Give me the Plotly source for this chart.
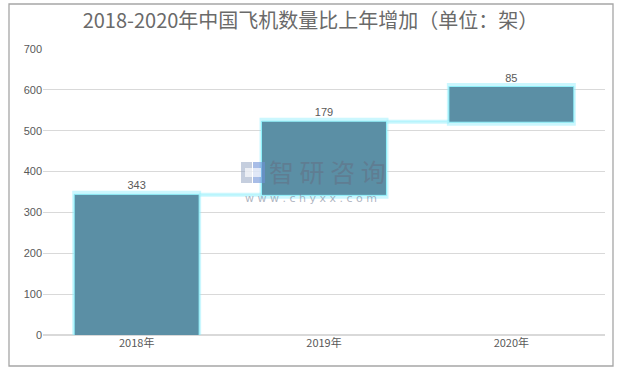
import plotly.graph_objects as go

categories = ["2018年", "2019年", "2020年"]
increments = [343, 179, 85]
y_ticks = [0, 100, 200, 300, 400, 500, 600, 700]
title_text = "2018-2020年中国飞机数量比上年增加（单位：架）"

W, H = 621, 370
L, R, T, B = 43, 16, 49, 35
pw, ph = W - L - R, H - T - B

def px(x):
    return (x - L) / pw

def py(y):
    return (H - B - y) / ph

fig = go.Figure()

common = dict(
    x=categories, y=increments, measure=["relative"] * len(increments),
)

# glow layer
fig.add_trace(go.Waterfall(
    **common,
    increasing=dict(marker=dict(color="rgba(0,0,0,0)", line=dict(color="rgba(140,238,252,0.45)", width=4))),
    connector=dict(line=dict(color="rgba(140,238,252,0.45)", width=4)),
    hoverinfo="skip", showlegend=False,
))
# main layer
fig.add_trace(go.Waterfall(
    **common,
    increasing=dict(marker=dict(color="#5B8FA5", line=dict(color="#8FF0FA", width=1))),
    connector=dict(line=dict(color="#B0F4FB", width=1)),
    text=[str(v) for v in increments], textposition="outside",
    textfont=dict(family="Liberation Sans, Arial", size=11, color="#595959"),
    cliponaxis=False, showlegend=False,
))

fig.update_layout(
    width=W, height=H,
    margin=dict(l=L, r=R, t=T, b=B),
    paper_bgcolor="white", plot_bgcolor="white",
    waterfallmode="overlay", waterfallgap=0.333,
    title=dict(text=title_text, x=0.5, xanchor="center", y=1 - 21 / H, yanchor="middle",
               font=dict(family="Noto Sans CJK SC", size=20, color="#6A6A6A")),
    xaxis=dict(showgrid=False, showline=False, ticks="",
               tickfont=dict(family="Noto Sans CJK SC, Liberation Sans", size=11, color="#595959")),
    yaxis=dict(range=[0, 700], tickvals=y_ticks, showgrid=True, gridcolor="#D9D9D9", gridwidth=1,
               zeroline=True, zerolinecolor="#D9D9D9", showline=False, ticks="",
               tickfont=dict(family="Liberation Sans, Arial", size=11, color="#595959")),
    font=dict(family="Noto Sans CJK SC"),
)

# outer border
fig.add_shape(type="rect", xref="paper", yref="paper",
              x0=px(9), x1=px(613), y0=py(366), y1=py(4),
              line=dict(color="#A6A6A6", width=1.3), fillcolor="rgba(0,0,0,0)", layer="below")

# watermark logo
fig.add_shape(type="rect", xref="paper", yref="paper",
              x0=px(241), x1=px(252), y0=py(183), y1=py(162),
              line=dict(width=0), fillcolor="rgba(150,165,195,0.55)")
fig.add_shape(type="rect", xref="paper", yref="paper",
              x0=px(253), x1=px(265), y0=py(183), y1=py(162),
              line=dict(width=0), fillcolor="rgba(110,145,215,0.6)")
fig.add_shape(type="rect", xref="paper", yref="paper",
              x0=px(245), x1=px(261), y0=py(177), y1=py(168),
              line=dict(width=0), fillcolor="rgba(255,255,255,0.65)")
fig.add_annotation(text="智 研 咨 询", xref="paper", yref="paper",
                   x=px(327), y=py(171), xanchor="center", yanchor="middle", showarrow=False,
                   font=dict(family="Noto Sans CJK SC", size=25, color="rgba(100,110,130,0.55)"))
fig.add_annotation(text="w w w . c h y x x . c o m", xref="paper", yref="paper",
                   x=px(311), y=py(198), xanchor="center", yanchor="middle", showarrow=False,
                   font=dict(family="DejaVu Sans", size=11, color="rgba(120,130,150,0.6)"))

fig.write_html("out.html", config={"displayModeBar": False},
               post_script="document.body.style.margin='0px';")
